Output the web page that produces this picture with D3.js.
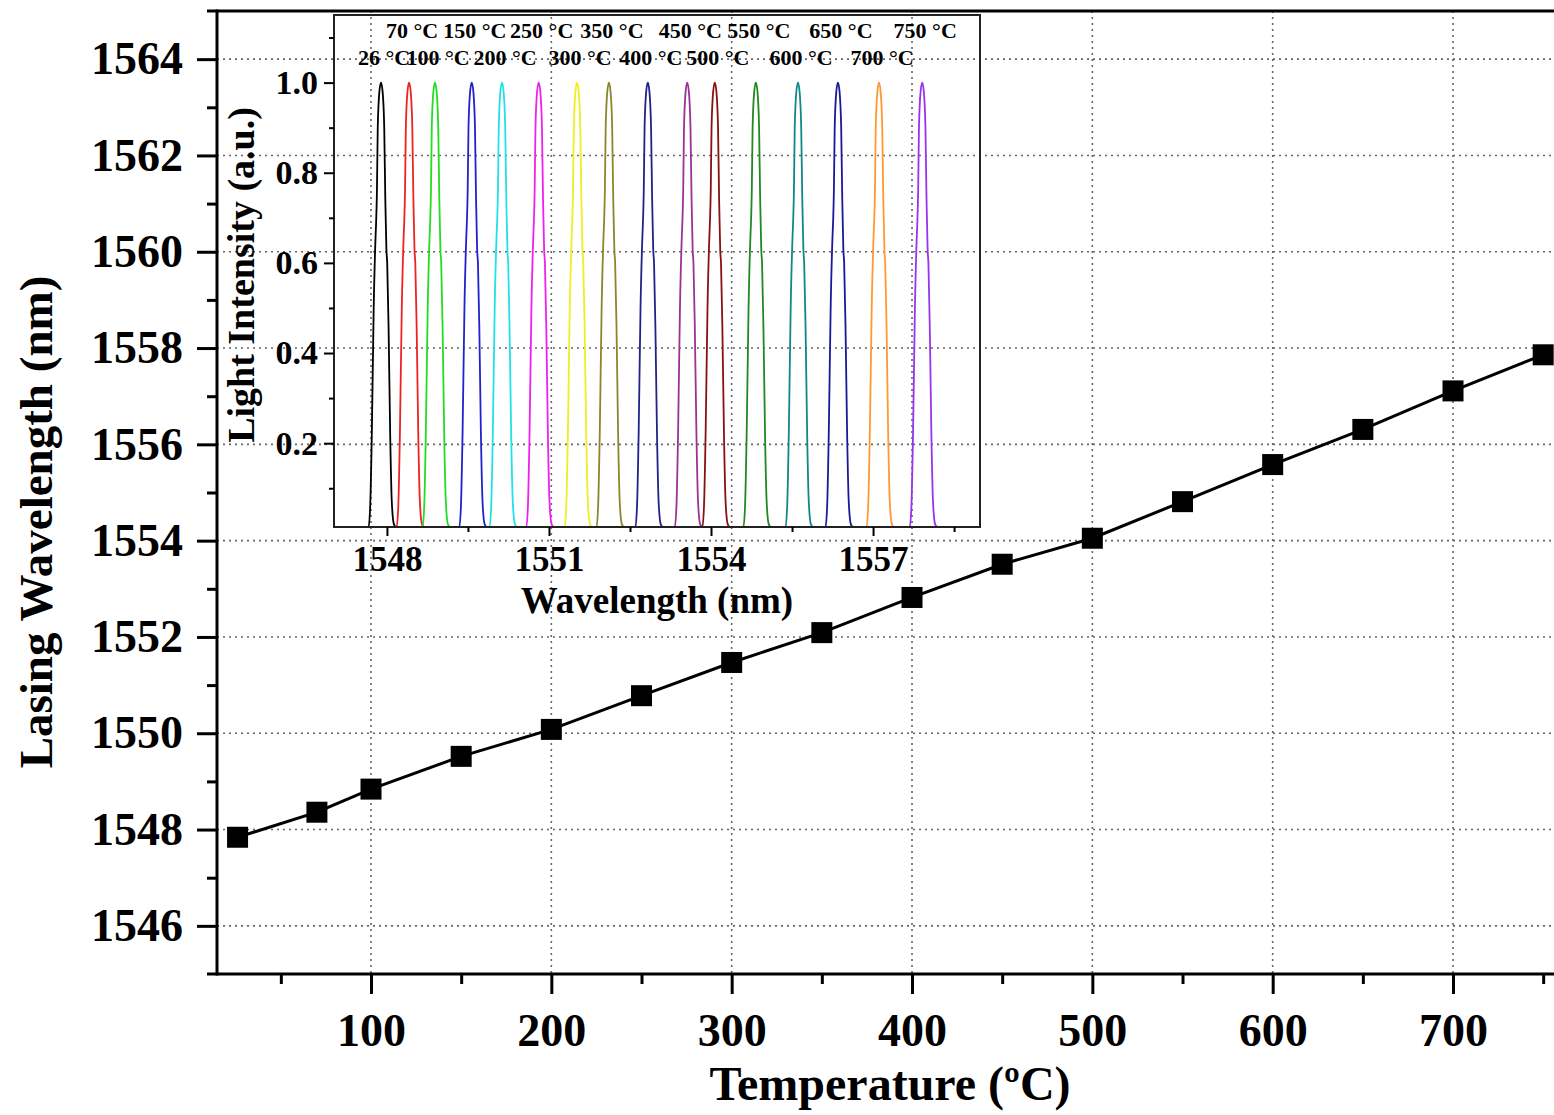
<!DOCTYPE html>
<html>
<head>
<meta charset="utf-8">
<script src="https://cdn.jsdelivr.net/npm/d3@7"></script>
<style>
  body { margin: 0; background: #fff; }
  text { font-family: "Liberation Serif", "Times New Roman", serif; font-weight: bold; }
</style>
</head>
<body>
<svg id="chart"></svg>
<script>
// main series: lasing wavelength vs temperature
const temperatures = [26, 70, 100, 150, 200, 250, 300, 350, 400, 450, 500, 550, 600, 650, 700, 750];
const lasingWavelengths = [1547.84, 1548.36, 1548.84, 1549.52, 1550.08, 1550.78, 1551.47, 1552.09,
                           1552.82, 1553.51, 1554.05, 1554.81, 1555.58, 1556.31, 1557.11, 1557.86];

// inset: spectrum peak centres, one per temperature
const peakCenters = [1547.89, 1548.41, 1548.89, 1549.57, 1550.13, 1550.81, 1551.52, 1552.11,
                     1552.83, 1553.56, 1554.07, 1554.83, 1555.61, 1556.35, 1557.11, 1557.91];
const peakLabels = temperatures.map(t => t + " °C");
const peakColors = ["#000000", "#ee2222", "#22dd22", "#2222cc", "#22e0e8", "#ee22ee", "#eeee22", "#88882a",
                    "#222288", "#993399", "#881111", "#228822", "#118888", "#1a1a99", "#ff9933", "#9933ee"];

const profileOffset = [-0.50, -0.23, -0.20, -0.17, -0.135, -0.10, -0.09, -0.075, -0.06, -0.03, 0,
                       0.03, 0.06, 0.08, 0.10, 0.115, 0.14, 0.17, 0.20, 0.24, 0.28, 0.50];
const profileLevel = [0.014, 0.014, 0.06, 0.22, 0.50, 0.66, 0.69, 0.76, 0.90, 0.98, 1.0,
                      0.98, 0.90, 0.74, 0.63, 0.60, 0.46, 0.22, 0.07, 0.02, 0.014, 0.014];

// ticks
const mainXTicks = [100, 200, 300, 400, 500, 600, 700];
const mainXMinor = [50, 150, 250, 350, 450, 550, 650, 750];
const mainYTicks = [1546, 1548, 1550, 1552, 1554, 1556, 1558, 1560, 1562, 1564];
const mainYMinor = [1547, 1549, 1551, 1553, 1555, 1557, 1559, 1561, 1563];
const insetXTicks = [1548, 1551, 1554, 1557];
const insetXMinor = [1549.5, 1552.5, 1555.5, 1558.5];
const insetYTicks = [0.2, 0.4, 0.6, 0.8, 1.0];
const insetYMinor = [0.1, 0.3, 0.5, 0.7, 0.9, 1.1];

const W = 1554, H = 1115;
const plot = { left: 217, right: 1554, top: 11, bottom: 974 };
const inset = { left: 334, right: 980, top: 15, bottom: 527 };

const svg = d3.select("#chart").attr("width", W).attr("height", H);
svg.append("rect").attr("width", W).attr("height", H).attr("fill", "#fff");

const x = d3.scaleLinear().domain([14.6, 756]).range([plot.left, plot.right]);
const y = d3.scaleLinear().domain([1545, 1565]).range([plot.bottom, plot.top]);
const ix = d3.scaleLinear().domain([1547.02, 1558.98]).range([inset.left, inset.right]);
const iy = d3.scaleLinear().domain([0.014, 1.15]).range([inset.bottom, inset.top]);

// grid of the main plot (shows through the inset)
const grid = svg.append("g")
    .attr("stroke", "#666")
    .attr("stroke-width", 1.6)
    .attr("stroke-dasharray", "2,4");
grid.selectAll(".gx").data(mainXTicks).join("line")
    .attr("x1", d => x(d)).attr("x2", d => x(d))
    .attr("y1", plot.top).attr("y2", plot.bottom);
grid.selectAll(".gy").data(mainYTicks).join("line")
    .attr("x1", plot.left).attr("x2", plot.right)
    .attr("y1", d => y(d)).attr("y2", d => y(d));

function styleAxis(g, size) {
    g.select(".domain").remove();
    g.selectAll("line").attr("stroke", "#000");
    g.selectAll("text")
        .attr("fill", "#000")
        .attr("font-size", size)
        .attr("font-family", "'Liberation Serif', 'Times New Roman', serif")
        .attr("font-weight", "bold");
}

// ---- inset ----
svg.append("defs").append("clipPath").attr("id", "inset-clip")
    .append("rect")
    .attr("x", inset.left).attr("y", inset.top)
    .attr("width", inset.right - inset.left).attr("height", inset.bottom - inset.top);

const spectrumLine = d3.line()
    .x(d => ix(d[0]))
    .y(d => iy(d[1]))
    .curve(d3.curveMonotoneX);

const spectra = svg.append("g").attr("clip-path", "url(#inset-clip)");
peakCenters.forEach((c, i) => {
    const pts = profileOffset.map((o, k) => [c + o, profileLevel[k]]);
    spectra.append("path")
        .datum(pts)
        .attr("d", spectrumLine)
        .attr("fill", "none")
        .attr("stroke", peakColors[i])
        .attr("stroke-width", 1.8);
});

svg.append("g").selectAll("text").data(peakLabels).join("text")
    .attr("x", (d, i) => ix(peakCenters[i]) + 3)
    .attr("y", (d, i) => i % 2 === 0 ? 65 : 38)
    .attr("text-anchor", "middle")
    .attr("font-size", 22)
    .text(d => d);

svg.append("rect")
    .attr("x", inset.left).attr("y", inset.top)
    .attr("width", inset.right - inset.left).attr("height", inset.bottom - inset.top)
    .attr("fill", "none").attr("stroke", "#222").attr("stroke-width", 2);

svg.append("g")
    .attr("transform", `translate(${inset.left},0)`)
    .call(d3.axisLeft(iy).tickValues(insetYTicks).tickSize(10).tickPadding(6).tickFormat(d3.format(".1f")))
    .call(g => styleAxis(g, 34))
    .call(g => g.selectAll("line").attr("stroke-width", 2));
svg.append("g")
    .attr("transform", `translate(${inset.left},0)`)
    .call(d3.axisLeft(iy).tickValues(insetYMinor).tickSize(5).tickFormat(""))
    .call(g => styleAxis(g, 10))
    .call(g => g.selectAll("line").attr("stroke-width", 2));
svg.append("g")
    .attr("transform", `translate(0,${inset.bottom})`)
    .call(d3.axisBottom(ix).tickValues(insetXTicks).tickSize(9).tickPadding(10).tickFormat(d3.format("d")))
    .call(g => styleAxis(g, 35))
    .call(g => g.selectAll("line").attr("stroke-width", 2));
svg.append("g")
    .attr("transform", `translate(0,${inset.bottom})`)
    .call(d3.axisBottom(ix).tickValues(insetXMinor).tickSize(5).tickFormat(""))
    .call(g => styleAxis(g, 10))
    .call(g => g.selectAll("line").attr("stroke-width", 2));

svg.append("text")
    .attr("transform", "translate(254,275) rotate(-90)")
    .attr("text-anchor", "middle")
    .attr("font-size", 38)
    .text("Light Intensity (a.u.)");
svg.append("text")
    .attr("x", 657).attr("y", 613)
    .attr("text-anchor", "middle")
    .attr("font-size", 37)
    .text("Wavelength (nm)");

// ---- main axes ----
svg.append("g")
    .attr("transform", `translate(${plot.left},0)`)
    .call(d3.axisLeft(y).tickValues(mainYTicks).tickSize(20).tickPadding(14).tickFormat(d3.format("d")))
    .call(g => styleAxis(g, 46))
    .call(g => g.selectAll("line").attr("stroke-width", 3));
svg.append("g")
    .attr("transform", `translate(${plot.left},0)`)
    .call(d3.axisLeft(y).tickValues(mainYMinor).tickSize(10).tickFormat(""))
    .call(g => styleAxis(g, 10))
    .call(g => g.selectAll("line").attr("stroke-width", 3));
svg.append("g")
    .attr("transform", `translate(0,${plot.bottom})`)
    .call(d3.axisBottom(x).tickValues(mainXTicks).tickSize(20).tickPadding(19).tickFormat(d3.format("d")))
    .call(g => styleAxis(g, 46))
    .call(g => g.selectAll("line").attr("stroke-width", 3));
svg.append("g")
    .attr("transform", `translate(0,${plot.bottom})`)
    .call(d3.axisBottom(x).tickValues(mainXMinor).tickSize(10).tickFormat(""))
    .call(g => styleAxis(g, 10))
    .call(g => g.selectAll("line").attr("stroke-width", 3));

const frame = svg.append("g").attr("stroke", "#000").attr("stroke-width", 3);
frame.append("line").attr("x1", plot.left).attr("x2", plot.left).attr("y1", plot.top - 1.5).attr("y2", plot.bottom + 1.5);
frame.append("line").attr("x1", plot.left - 10).attr("x2", plot.right).attr("y1", plot.bottom).attr("y2", plot.bottom);
frame.append("line").attr("x1", plot.left - 10).attr("x2", plot.right).attr("y1", plot.top).attr("y2", plot.top);

svg.append("text")
    .attr("x", 890).attr("y", 1100)
    .attr("text-anchor", "middle")
    .attr("font-size", 48)
    .text("Temperature (ºC)");
svg.append("text")
    .attr("transform", "translate(52,522) rotate(-90)")
    .attr("text-anchor", "middle")
    .attr("font-size", 47)
    .text("Lasing Wavelength (nm)");

// ---- main series ----
const mainData = temperatures.map((t, i) => ({ t, w: lasingWavelengths[i] }));
svg.append("path")
    .datum(mainData)
    .attr("d", d3.line().x(d => x(d.t)).y(d => y(d.w)))
    .attr("fill", "none")
    .attr("stroke", "#000")
    .attr("stroke-width", 3);
const ms = 21;
svg.append("g").selectAll("rect").data(mainData).join("rect")
    .attr("x", d => x(d.t) - ms / 2)
    .attr("y", d => y(d.w) - ms / 2)
    .attr("width", ms).attr("height", ms)
    .attr("fill", "#000");
</script>
</body>
</html>
